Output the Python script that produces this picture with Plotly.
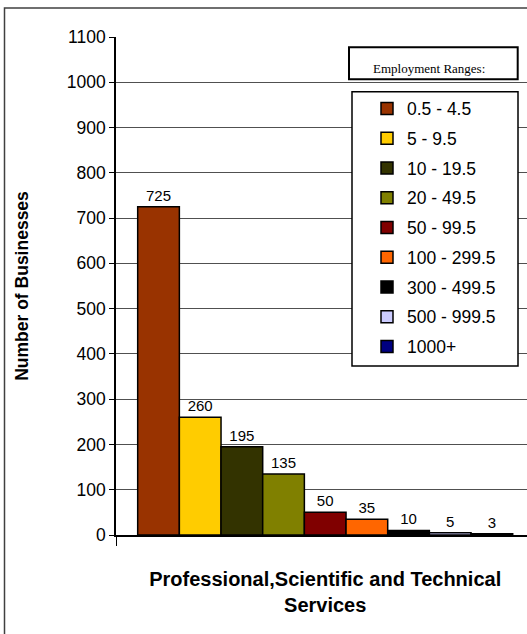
import plotly.graph_objects as go

# ---- data ----
category = ["Professional,Scientific and Technical<br>Services"]
ranges = ["0.5 - 4.5", "5 - 9.5", "10 - 19.5", "20 - 49.5", "50 - 99.5",
          "100 - 299.5", "300 - 499.5", "500 - 999.5", "1000+"]
counts = [725, 260, 195, 135, 50, 35, 10, 5, 3]
colors = ["#993300", "#FFCC00", "#333300", "#808000", "#800000",
          "#FF6600", "#000000", "#CCCCFF", "#000080"]
y_ticks = list(range(0, 1101, 100))

SANS = "Liberation Sans, Arial, sans-serif"

fig = go.Figure()
for i, (name, val, col) in enumerate(zip(ranges, counts, colors)):
    fig.add_trace(go.Bar(
        x=category, y=[val], name=name,
        legendgroup=f"g{i}",
        marker=dict(color=col, line=dict(color="black", width=1.5)),
        text=[str(val)], textposition="outside", cliponaxis=False,
        textfont=dict(family=SANS, size=15, color="black"),
    ))

W, H = 527, 634
L, R, T, B = 116, 0, 37, 99
pw, ph = W - L - R, H - T - B

def px_x(x):
    return (x - L) / pw

def px_y(y):
    return 1 - (y - T) / ph

fig.update_layout(
    width=W, height=H,
    margin=dict(l=L, r=R, t=T, b=B, autoexpand=False),
    paper_bgcolor="white", plot_bgcolor="white",
    barmode="group", bargap=0.1037, bargroupgap=0,
    showlegend=True,
    legend=dict(
        x=px_x(353), y=px_y(90.5), xanchor="left", yanchor="top",
        bgcolor="rgba(0,0,0,0)", borderwidth=0,
        font=dict(family=SANS, size=17.5, color="black"),
        tracegroupgap=4, traceorder="grouped", indentation=14,
    ),
    xaxis=dict(
        range=[-0.5, 0.4823],
        showline=True, linecolor="black", linewidth=1.5,
        ticks="outside", tickson="boundaries", ticklen=9, tickcolor="black",
        ticklabelstandoff=25,
        tickfont=dict(family=SANS, size=20, color="black", weight="bold"),
        showgrid=False,
    ),
    yaxis=dict(
        range=[0, 1100], tickvals=y_ticks,
        showline=True, linecolor="black", linewidth=1.5,
        ticks="outside", ticklen=5, tickcolor="black",
        tickfont=dict(family=SANS, size=17.5, color="black"),
        showgrid=True, gridcolor="#505050", gridwidth=1,
        zeroline=False,
        title=dict(text="Number of Businesses", standoff=34,
                   font=dict(family=SANS, size=17.5, color="black", weight="bold")),
    ),
    shapes=[
        # outer chart border
        dict(type="rect", xref="paper", yref="paper",
             x0=px_x(4.5), x1=1.2, y0=-0.3, y1=px_y(8),
             line=dict(color="#404040", width=1.5), fillcolor="rgba(0,0,0,0)",
             layer="above"),
        # legend title box
        dict(type="rect", xref="paper", yref="paper",
             x0=px_x(349), x1=px_x(517.7), y0=px_y(79.3), y1=px_y(47.3),
             line=dict(color="black", width=2), fillcolor="white", layer="above"),
        # legend frame
        dict(type="rect", xref="paper", yref="paper",
             x0=px_x(352), x1=px_x(518), y0=px_y(366), y1=px_y(91.7),
             line=dict(color="black", width=1.5), fillcolor="white", layer="above"),
    ],
    annotations=[
        dict(text="Employment Ranges:", xref="paper", yref="paper",
             x=px_x(429), y=px_y(68), xanchor="center", yanchor="middle",
             showarrow=False,
             font=dict(family="Liberation Serif, Times New Roman, serif",
                       size=13, color="black")),
    ],
)

fig.write_html("out.html", config={"displayModeBar": False},
               post_script="document.body.style.margin='0px';")
